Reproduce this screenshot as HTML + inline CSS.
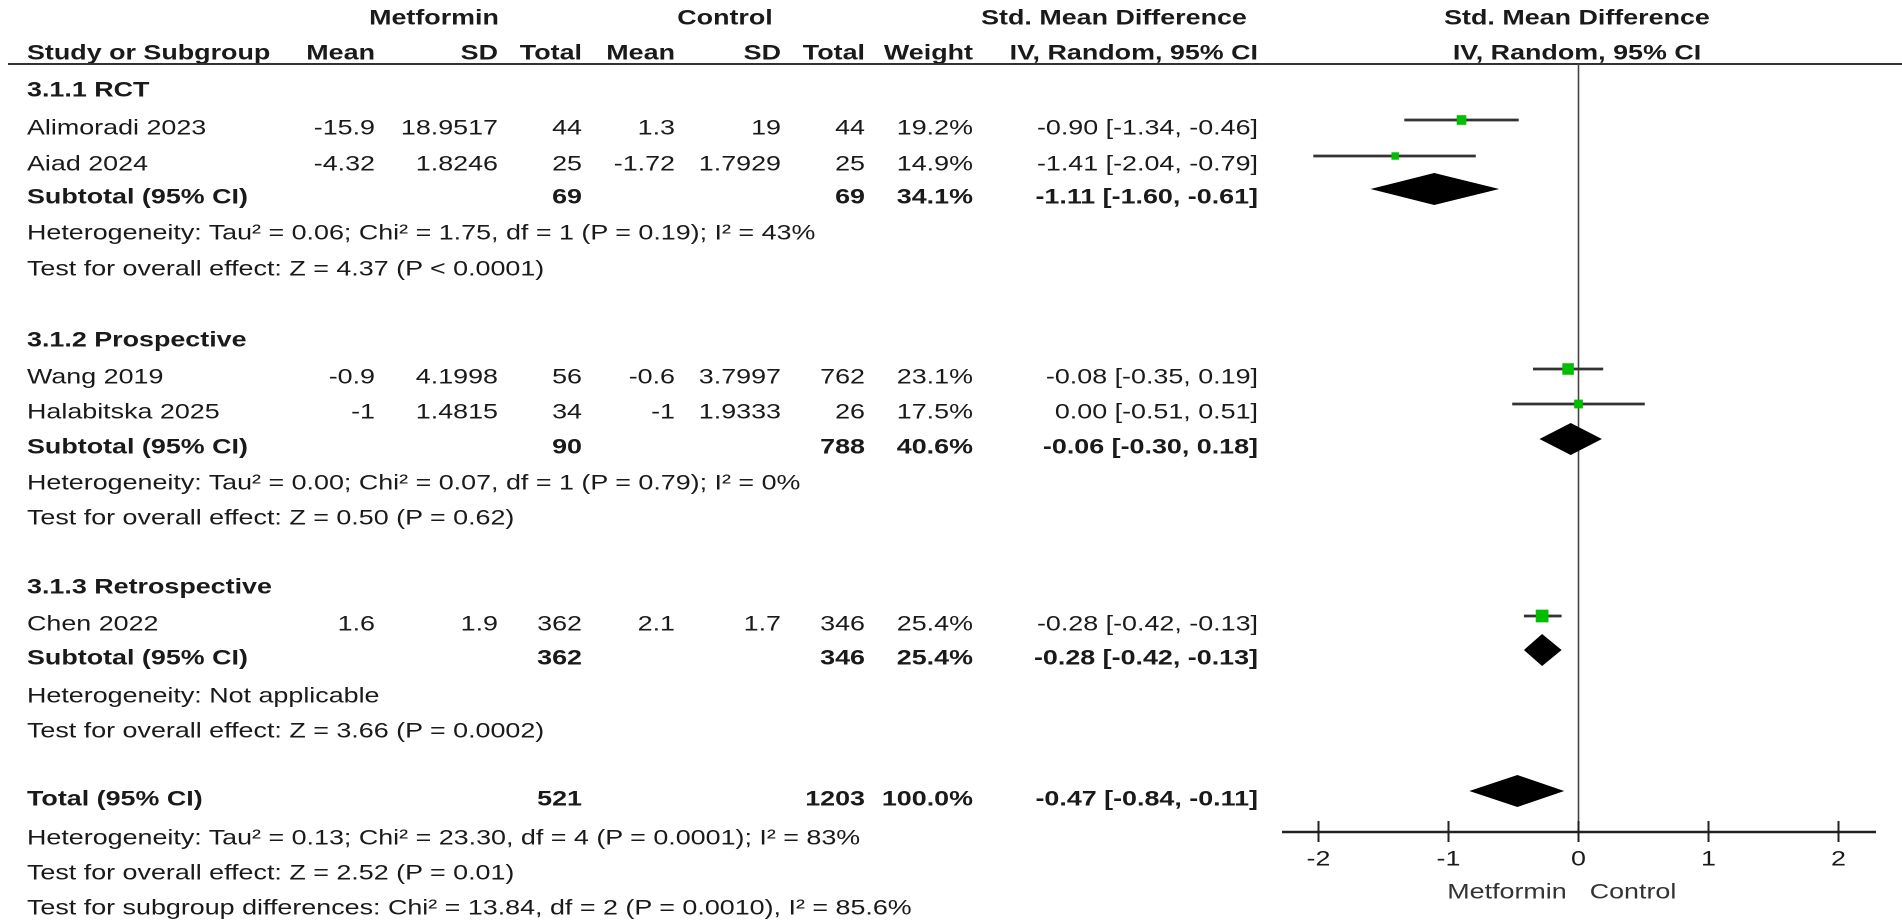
<!DOCTYPE html>
<html><head><meta charset="utf-8"><style>
html,body{margin:0;padding:0;background:#fff;}
svg{display:block;}
text{font-family:"Liberation Sans",Arial,sans-serif;font-size:21px;fill:#1a1a1a;}
.b{font-weight:bold;}
</style></head><body>
<svg id="plot" width="1902" height="923" viewBox="0 0 1902 923"></svg>
<script>
// ---- data ----
const studies = ["Alimoradi 2023","Aiad 2024","Wang 2019","Halabitska 2025","Chen 2022"];
const metMean = ["-15.9","-4.32","-0.9","-1","1.6"];
const metSD = ["18.9517","1.8246","4.1998","1.4815","1.9"];
const metN = ["44","25","56","34","362"];
const ctlMean = ["1.3","-1.72","-0.6","-1","2.1"];
const ctlSD = ["19","1.7929","3.7997","1.9333","1.7"];
const ctlN = ["44","25","762","26","346"];
const weights = [19.2,14.9,23.1,17.5,25.4];
const est = [-0.90,-1.41,-0.08,0.00,-0.28];
const lo = [-1.34,-2.04,-0.35,-0.51,-0.42];
const hi = [-0.46,-0.79,0.19,0.51,-0.13];
const studyRowY = [127,163,376,411,623];
const subNames = ["Subtotal (95% CI)","Subtotal (95% CI)","Subtotal (95% CI)","Total (95% CI)"];
const subMetN = ["69","90","362","521"];
const subCtlN = ["69","788","346","1203"];
const subW = [34.1,40.6,25.4,100.0];
const subEst = [-1.11,-0.06,-0.28,-0.47];
const subLo = [-1.60,-0.30,-0.42,-0.84];
const subHi = [-0.61,0.18,-0.13,-0.11];
const subRowY = [196,446,657,798];
const xTicks = [-2,-1,0,1,2];

const svg = document.getElementById('plot');
const NS = 'http://www.w3.org/2000/svg';
const SX = 1.28;
const X0 = 1578.5, UNIT = 130;
function xs(v){ return X0 + v*UNIT; }
function mk(tag, attrs){ const e=document.createElementNS(NS,tag); for(const k in attrs) e.setAttribute(k,attrs[k]); svg.appendChild(e); return e; }
function txt(x, cy, s, anchor, bold, name){
  const t = document.createElementNS(NS,'text');
  t.setAttribute('transform','translate('+x+','+(cy+7.5)+') scale('+SX+',1)');
  t.setAttribute('text-anchor', anchor||'start');
  if(bold) t.setAttribute('class','b');
  t.textContent = s;
  
  
  svg.appendChild(t); return t;
}
function fmt(v){ return (v<0?'-':'')+Math.abs(v).toFixed(2); }
function ci(e,l,h){ return fmt(e)+' ['+fmt(l)+', '+fmt(h)+']'; }

// headers
txt(434,17,'Metformin','middle',true,'metformin-header');
txt(725,17,'Control','middle',true,'control-header');
txt(1114,17,'Std. Mean Difference','middle',true,'smd-header');
txt(1577,17,'Std. Mean Difference','middle',true,'smd-plot-header');
txt(27,52,'Study or Subgroup','start',true,'study-header');
txt(375,52,'Mean','end',true,'met-mean-header');
txt(498,52,'SD','end',true,'met-sd-header');
txt(582,52,'Total','end',true,'met-total-header');
txt(675,52,'Mean','end',true,'ctl-mean-header');
txt(781,52,'SD','end',true,'ctl-sd-header');
txt(865,52,'Total','end',true,'ctl-total-header');
txt(973,52,'Weight','end',true,'weight-header');
txt(1258,52,'IV, Random, 95% CI','end',true,'ci-header');
txt(1577,52,'IV, Random, 95% CI','middle',true,'ci-plot-header');
let hl = mk('line',{x1:8,y1:64,x2:1902,y2:64,stroke:'#333','stroke-width':2});



// group labels
txt(27,89,'3.1.1 RCT','start',true,'group-rct');
txt(27,339,'3.1.2 Prospective','start',true,'group-prospective');
txt(27,586,'3.1.3 Retrospective','start',true,'group-retrospective');

// zero line
let zl = mk('line',{x1:xs(0),y1:64,x2:xs(0),y2:832,stroke:'#444','stroke-width':1.6});



// studies
for(let i=0;i<studies.length;i++){
  const y = studyRowY[i];
  txt(27,y,studies[i],'start',false,'study-name');
  txt(375,y,metMean[i],'end',false,'met-mean');
  txt(498,y,metSD[i],'end',false,'met-sd');
  txt(582,y,metN[i],'end',false,'met-total');
  txt(675,y,ctlMean[i],'end',false,'ctl-mean');
  txt(781,y,ctlSD[i],'end',false,'ctl-sd');
  txt(865,y,ctlN[i],'end',false,'ctl-total');
  txt(973,y,weights[i].toFixed(1)+'%','end',false,'weight');
  txt(1258,y,ci(est[i],lo[i],hi[i]),'end',false,'ci-value');
  const my = y-7;
  const l = mk('line',{x1:xs(lo[i]),y1:my,x2:xs(hi[i]),y2:my,stroke:'#333','stroke-width':2.8});
  
  
  const s = weights[i]*0.5;
  const r = mk('rect',{x:xs(est[i])-s/2,y:my-s/2,width:s,height:s,fill:'#00bf00'});
  
  
}
// subtotals
for(let i=0;i<subNames.length;i++){
  const y = subRowY[i];
  txt(27,y,subNames[i],'start',true,'subtotal-label');
  txt(582,y,subMetN[i],'end',true,'subtotal-met-total');
  txt(865,y,subCtlN[i],'end',true,'subtotal-ctl-total');
  txt(973,y,subW[i].toFixed(1)+'%','end',true,'subtotal-weight');
  txt(1258,y,ci(subEst[i],subLo[i],subHi[i]),'end',true,'subtotal-ci');
  const my = y-7, hh=16;
  const d = mk('polygon',{points:[xs(subLo[i])+','+my, xs(subEst[i])+','+(my-hh), xs(subHi[i])+','+my, xs(subEst[i])+','+(my+hh)].join(' '),fill:'#000'});
  
  
}
// stats text
const notes = [
 [232,'Heterogeneity: Tau² = 0.06; Chi² = 1.75, df = 1 (P = 0.19); I² = 43%'],
 [268,'Test for overall effect: Z = 4.37 (P < 0.0001)'],
 [482,'Heterogeneity: Tau² = 0.00; Chi² = 0.07, df = 1 (P = 0.79); I² = 0%'],
 [517,'Test for overall effect: Z = 0.50 (P = 0.62)'],
 [695,'Heterogeneity: Not applicable'],
 [730,'Test for overall effect: Z = 3.66 (P = 0.0002)'],
 [837,'Heterogeneity: Tau² = 0.13; Chi² = 23.30, df = 4 (P = 0.0001); I² = 83%'],
 [872,'Test for overall effect: Z = 2.52 (P = 0.01)'],
 [907,'Test for subgroup differences: Chi² = 13.84, df = 2 (P = 0.0010), I² = 85.6%']
];
notes.forEach(n=>txt(27,n[0],n[1],'start',false,'stats-note'));

// axis
let ax = mk('line',{x1:1282,y1:832,x2:1876,y2:832,stroke:'#222','stroke-width':2.4});


xTicks.forEach(v=>{
  const t = mk('line',{x1:xs(v),y1:821,x2:xs(v),y2:842,stroke:'#222','stroke-width':2});
  
  
  txt(xs(v),858,String(v),'middle',false,'x-tick-label');
});
const lm = txt(1507,891,'Metformin','middle',false,'favours-metformin');
lm.style.fill='#333';
const lc = txt(1633,891,'Control','middle',false,'favours-control');
lc.style.fill='#333';
</script>
</body></html>
